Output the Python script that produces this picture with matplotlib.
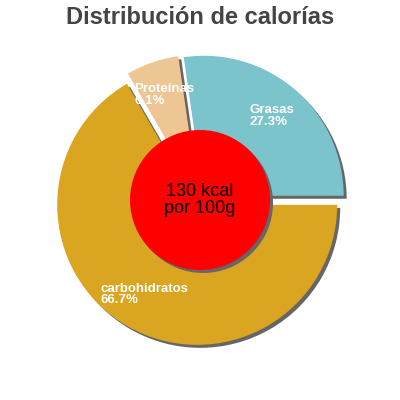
import matplotlib
matplotlib.use("Agg")
import matplotlib.pyplot as plt
from matplotlib.patches import Circle

plt.rcParams['font.family'] = ['Liberation Sans', 'DejaVu Sans']

title = "Distribución de calorías"
categories = ["Grasas", "Proteínas", "carbohidratos"]
percent = [27.3, 6.1, 66.7]
colors = ["#7BC4CC", "#EEC693", "#DAA520"]
center_text = "130 kcal\npor 100g"

# label anchor positions (data coords, pie radius = 1)
label_pos = [(0.352, 0.60), (-0.469, 0.75), (-0.714, -0.675)]

R = 140.0  # pie radius in pixels
fig = plt.figure(figsize=(4, 4), dpi=100)
ax = fig.add_axes([0, 0, 1, 1])
lim = 200 / R

explode = [0.04] * len(percent)
sh = 3 / R
shadow_col = "#666666"

# shadow
ax.pie(percent, explode=explode, startangle=0, counterclock=True,
       colors=[shadow_col] * len(percent), radius=1.0, center=(sh, -sh),
       wedgeprops=dict(linewidth=0), frame=True)
# main pie
ax.pie(percent, explode=explode, startangle=0, counterclock=True,
       colors=colors, radius=1.0, center=(0, 0),
       wedgeprops=dict(linewidth=0), frame=True)

ax.set_xlim(-lim, lim)
ax.set_ylim(-lim, lim)
ax.set_aspect('equal')
ax.axis('off')

# center circle with shadow
ax.add_patch(Circle((sh, -sh), 0.5, color=shadow_col, lw=0, zorder=5))
ax.add_patch(Circle((0, 0), 0.5, color="#FF0000", lw=0, zorder=6))
ax.text(0, 0.0, center_text, ha='center', va='center', fontsize=13,
        color='black', linespacing=0.95, zorder=7)

for (x, y), cat, p in zip(label_pos, categories, percent):
    ax.text(x, y, f"{cat}\n{p}%", ha='left', va='center', fontsize=9.5,
            fontweight='bold', color='white', linespacing=0.92, zorder=8)

fig.text(0.5, 1 - 17.5 / 400, title, ha='center', va='center',
         fontsize=17, fontweight='bold', color='#444444')

fig.savefig("out.png", dpi=100)
